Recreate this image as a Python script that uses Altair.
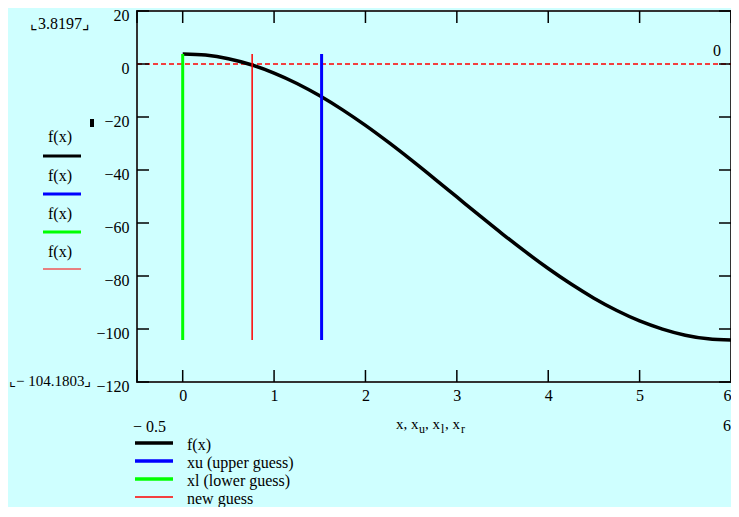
import altair as alt
import pandas as pd

# ---- data ----
curve_x = [0.0, 0.25, 0.5, 0.75, 1.0, 1.25, 1.5, 1.75, 2.0, 2.25, 2.5, 2.75, 3.0,
           3.25, 3.5, 3.75, 4.0, 4.25, 4.5, 4.75, 5.0, 5.25, 5.5, 5.75, 6.0]
curve_y = [3.82, 3.36, 1.98, -0.29, -3.41, -7.34, -12.0, -17.31, -23.18, -29.52, -36.2,
           -43.13, -50.18, -57.23, -64.16, -70.84, -77.18, -83.05, -88.36, -93.02,
           -96.95, -100.02, -102.34, -103.72, -104.18]

guess_names = ["xu (upper guess)", "xl (lower guess)", "new guess"]
guess_x = [1.52, 0.0, 0.76]
f_max = 3.8197
f_min = -104.1803

x_ticks = [-0.5, 0, 1, 2, 3, 4, 5, 6]
x_labels = [0, 1, 2, 3, 4, 5, 6]
y_ticks = [-120, -100, -80, -60, -40, -20, 0, 20]

legend_names = ["f(x)", "xu (upper guess)", "xl (lower guess)", "new guess"]
legend_colors = ["#000000", "#0000FF", "#00FF00", "#FF0000"]
legend_widths = [3.5, 3.5, 3.5, 1.5]

W, H = 594, 371
BG = "#CFFFFF"
SERIF = "Liberation Serif"

xs = alt.Scale(domain=[-0.5, 6], nice=False, zero=False)
ys = alt.Scale(domain=[-120, 20], nice=False, zero=False)

curve_df = pd.DataFrame({"x": curve_x, "y": curve_y})
guess_df = pd.DataFrame({"name": guess_names, "x": guess_x,
                         "lo": [f_min] * 3, "hi": [f_max] * 3})

base_axes = alt.Chart(curve_df).mark_line(opacity=0).encode(
    x=alt.X("x:Q", scale=xs, title=None,
            axis=alt.Axis(values=x_labels, format="d", ticks=False, domain=False, grid=False,
                          labelFont=SERIF, labelFontSize=16, labelColor="#000",
                          labelPadding=5, labelFlush=True)),
    y=alt.Y("y:Q", scale=ys, title=None,
            axis=alt.Axis(values=y_ticks, format="d", ticks=False, domain=False, grid=False,
                          labelFont=SERIF, labelFontSize=16, labelColor="#000",
                          labelPadding=8, labelOffset=4, labelFlush=False)),
)

curve = alt.Chart(curve_df).mark_line(color="#000000", strokeWidth=3.5, interpolate="monotone").encode(
    x=alt.X("x:Q", scale=xs), y=alt.Y("y:Q", scale=ys))

guess_layers = []
for name, col, sw in zip(guess_names, ["#0000FF", "#00FF00", "#FF0000"], [3, 3, 1.5]):
    guess_layers.append(
        alt.Chart(guess_df).transform_filter(alt.datum.name == name)
        .mark_rule(color=col, strokeWidth=sw)
        .encode(x=alt.X("x:Q", scale=xs), y=alt.Y("lo:Q", scale=ys), y2="hi:Q")
    )

zero_df = pd.DataFrame({"y": [0], "x0": [-0.5], "x1": [6]})
zero_line = alt.Chart(zero_df).mark_rule(color="#FF0000", strokeWidth=1.5, strokeDash=[5, 3]).encode(
    y=alt.Y("y:Q", scale=ys), x=alt.X("x0:Q", scale=xs), x2="x1:Q")

yt = pd.DataFrame({"v": y_ticks})
xt = pd.DataFrame({"v": x_ticks})
tick_left = alt.Chart(yt).mark_rule(color="#000", strokeWidth=1.5).encode(
    y=alt.Y("v:Q", scale=ys), x=alt.value(0), x2=alt.value(12))
tick_right = alt.Chart(yt).mark_rule(color="#000", strokeWidth=1.5).encode(
    y=alt.Y("v:Q", scale=ys), x=alt.value(W - 12), x2=alt.value(W))
tick_bottom = alt.Chart(xt).mark_rule(color="#000", strokeWidth=1.5).encode(
    x=alt.X("v:Q", scale=xs), y=alt.value(H - 12), y2=alt.value(H))
tick_top = alt.Chart(xt).mark_rule(color="#000", strokeWidth=1.5).encode(
    x=alt.X("v:Q", scale=xs), y=alt.value(0), y2=alt.value(12))

one = pd.DataFrame({"a": [0]})


def txt(s, x, y, size=16, align="left", baseline="middle", color="#000"):
    return alt.Chart(one).mark_text(text=s, font=SERIF, fontSize=size, align=align,
                                    baseline=baseline, color=color).encode(
        x=alt.value(x), y=alt.value(y))


def seg(x1, x2, y, color, width):
    return alt.Chart(one).mark_rule(color=color, strokeWidth=width).encode(
        x=alt.value(x1), x2=alt.value(x2), y=alt.value(y))


layers = [base_axes, zero_line, curve] + guess_layers + [tick_left, tick_right, tick_bottom, tick_top]

# marker label and range labels
layers.append(txt("0", 580, 40, 16, align="center"))
layers.append(txt("⌞3.8197⌟", -77, 13, 16, align="center"))
layers.append(txt("⌞− 104.1803⌟", -128, 370, 15, align="left"))

# left legend (y-axis traces)
left_y_text = [126, 165, 203, 241]
left_y_line = [145, 183, 221, 258]
for i in range(4):
    layers.append(txt("f(x)", -77, left_y_text[i], 16, align="center"))
    layers.append(seg(-94, -56, left_y_line[i], legend_colors[i], legend_widths[i] - 0.5))
layers.append(alt.Chart(one).mark_rule(color="#000", strokeWidth=4).encode(
    x=alt.value(-45), y=alt.value(108), y2=alt.value(116)))

# x axis range and title
layers.append(txt("− 0.5", -4, 416, 16))
layers.append(txt("6", W, 415, 16, align="right"))
layers.append(txt("x, x", 259, 418, 15, baseline="alphabetic"))
layers.append(txt("u", 282, 422, 12, baseline="alphabetic"))
layers.append(txt(", x", 288, 418, 15, baseline="alphabetic"))
layers.append(txt("l", 304, 422, 12, baseline="alphabetic"))
layers.append(txt(", x", 308, 418, 15, baseline="alphabetic"))
layers.append(txt("r", 324, 422, 12, baseline="alphabetic"))

# bottom legend
bot_line = [432, 450, 468, 486]
bot_text = [434, 452, 470, 488]
for i in range(4):
    layers.append(seg(-2, 36, bot_line[i], legend_colors[i], legend_widths[i]))
    layers.append(txt(legend_names[i], 50, bot_text[i], 16))

chart = alt.layer(*layers).properties(
    width=W, height=H,
    background=BG,
    padding={"left": 129, "top": 3, "right": 0, "bottom": 125},
    autosize=alt.AutoSizeParams(type="none"),
).configure_view(stroke="#333333", strokeWidth=2, fill=BG)

chart.save("out.html", embed_options={"renderer": "svg", "actions": False})
